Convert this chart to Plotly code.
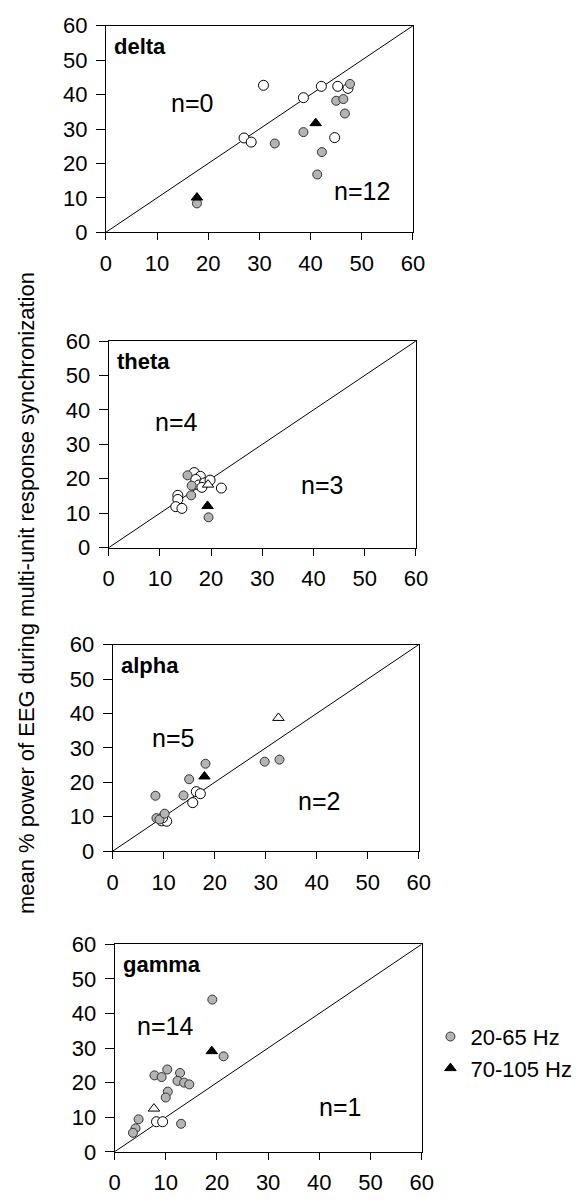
import plotly.graph_objects as go

# --- data: (x, y) pairs per band and marker class ---------------------------
bands = ["delta", "theta", "alpha", "gamma"]

# open circles (non-significant units)
delta_open_x = [30.8, 27.0, 28.4, 38.6, 42.1, 45.3, 44.7, 47.3]
delta_open_y = [42.7, 27.4, 26.2, 39.1, 42.4, 42.4, 27.5, 41.8]
# shaded circles: 20-65 Hz
delta_low_x = [47.7, 45.0, 46.4, 46.7, 38.6, 33.0, 42.2, 41.3, 17.8]
delta_low_y = [43.1, 38.2, 38.7, 34.5, 29.1, 25.8, 23.3, 16.8, 8.4]
# filled triangles: 70-105 Hz
delta_high_x = [17.8, 41.0]
delta_high_y = [10.1, 31.7]
delta_hopen_x = []
delta_hopen_y = []

theta_open_x = [13.5, 13.5, 13.1, 14.3, 16.7, 17.9, 17.0, 17.6, 18.7, 19.8, 22.0, 18.2]
theta_open_y = [15.2, 14.0, 11.9, 11.4, 21.8, 20.7, 19.8, 18.2, 18.8, 19.6, 17.3, 17.5]
theta_low_x = [15.4, 16.2, 16.1, 19.5]
theta_low_y = [21.0, 18.0, 15.2, 8.8]
theta_high_x = [19.3]
theta_high_y = [12.1]
theta_hopen_x = [19.4]
theta_hopen_y = [18.3]

alpha_open_x = [9.6, 10.6, 16.4, 17.2, 15.7, 9.8]
alpha_open_y = [8.8, 8.7, 17.3, 16.7, 14.1, 9.7]
alpha_low_x = [8.4, 8.6, 9.2, 10.2, 13.9, 15.0, 18.2, 29.8, 32.7]
alpha_low_y = [16.1, 9.6, 9.2, 10.9, 16.2, 20.9, 25.4, 26.0, 26.6]
alpha_high_x = [18.0]
alpha_high_y = [21.7]
alpha_hopen_x = [32.5]
alpha_hopen_y = [38.7]

gamma_open_x = [8.2, 9.4]
gamma_open_y = [8.7, 8.7]
gamma_low_x = [19.1, 21.3, 10.3, 7.8, 9.2, 12.8, 12.3, 13.6, 14.6, 10.4, 10.0, 4.7, 4.1, 3.6, 13.0]
gamma_low_y = [44.0, 27.6, 23.8, 22.1, 21.6, 22.8, 20.5, 20.0, 19.5, 17.4, 15.7, 9.4, 6.8, 5.5, 8.1]
gamma_high_x = [19.0]
gamma_high_y = [29.1]
gamma_hopen_x = [7.7]
gamma_hopen_y = [12.5]

counts_above = ["n=0", "n=4", "n=5", "n=14"]
counts_below = ["n=12", "n=3", "n=2", "n=1"]
tick_vals = [0, 10, 20, 30, 40, 50, 60]
legend_names = ["20-65 Hz", "70-105 Hz"]
y_title = "mean % power of EEG during multi-unit response synchronization"

panels = {
    "delta": (delta_open_x, delta_open_y, delta_low_x, delta_low_y,
              delta_high_x, delta_high_y, delta_hopen_x, delta_hopen_y),
    "theta": (theta_open_x, theta_open_y, theta_low_x, theta_low_y,
              theta_high_x, theta_high_y, theta_hopen_x, theta_hopen_y),
    "alpha": (alpha_open_x, alpha_open_y, alpha_low_x, alpha_low_y,
              alpha_high_x, alpha_high_y, alpha_hopen_x, alpha_hopen_y),
    "gamma": (gamma_open_x, gamma_open_y, gamma_low_x, gamma_low_y,
              gamma_high_x, gamma_high_y, gamma_hopen_x, gamma_hopen_y),
}

# --- layout geometry (pixels in a 581 x 1204 page) ---------------------------
W, H = 581, 1204
# left, right, top, bottom of each plotting box
boxes = [
    (103, 420, 14, 225),
    (106, 423, 336, 547),
    (110, 426, 646, 857),
    (112, 429, 952, 1164),
]
# where the count labels sit (data coordinates, left edge of the text)
above_pos = [(12.3, 37.6), (8.7, 36.5), (7.4, 32.8), (4.0, 36.3)]
below_pos = [(44.1, 12.0), (37.1, 18.2), (35.9, 14.5), (39.5, 13.0)]

FONT = "Liberation Sans, Arial, Helvetica, sans-serif"
fig = go.Figure()

for i, band in enumerate(bands):
    ox, oy, lx, ly, hx, hy, tx, ty = panels[band]
    xa = "x" if i == 0 else f"x{i+1}"
    ya = "y" if i == 0 else f"y{i+1}"

    # identity line
    fig.add_trace(go.Scatter(x=[0, 60], y=[0, 60], mode="lines",
                             line=dict(color="black", width=1),
                             xaxis=xa, yaxis=ya, showlegend=False,
                             hoverinfo="skip"))
    fig.add_trace(go.Scatter(x=ox, y=oy, mode="markers", xaxis=xa, yaxis=ya,
                             marker=dict(symbol="circle", size=10, color="white",
                                         line=dict(color="black", width=1)),
                             showlegend=False))
    fig.add_trace(go.Scatter(x=lx, y=ly, mode="markers", xaxis=xa, yaxis=ya,
                             name=legend_names[0],
                             marker=dict(symbol="circle", size=9, color="#b4b4b4",
                                         line=dict(color="#333333", width=1)),
                             showlegend=(i == 0), legendrank=1))
    fig.add_trace(go.Scatter(x=tx, y=ty, mode="markers", xaxis=xa, yaxis=ya,
                             marker=dict(symbol="triangle-up", size=10, color="white",
                                         line=dict(color="black", width=1)),
                             showlegend=False))
    fig.add_trace(go.Scatter(x=hx, y=hy, mode="markers", xaxis=xa, yaxis=ya,
                             name=legend_names[1],
                             marker=dict(symbol="triangle-up", size=10, color="black",
                                         line=dict(color="black", width=1)),
                             showlegend=(i == 0), legendrank=2))

    l, r, t, b = boxes[i]
    axis_common = dict(range=[0, 60], tickvals=tick_vals, showgrid=False,
                       zeroline=False, showline=True, linecolor="black",
                       linewidth=1, mirror=True, ticks="outside",
                       tickcolor="black", tickwidth=1,
                       tickfont=dict(family=FONT, size=22, color="black"))
    fig.update_layout({
        ("xaxis" if i == 0 else f"xaxis{i+1}"): dict(
            axis_common, domain=[l / W, r / W], anchor=ya, ticklen=7,
            ticklabelstandoff=4),
        ("yaxis" if i == 0 else f"yaxis{i+1}"): dict(
            axis_common, domain=[1 - b / H, 1 - t / H], anchor=xa, ticklen=9,
            ticklabelstandoff=4),
    })

    # panel name and counts inside each box
    fig.add_annotation(x=0.02, y=0.97, xref=f"{xa} domain", yref=f"{ya} domain",
                       text=f"<b>{band}</b>", showarrow=False,
                       xanchor="left", yanchor="top",
                       font=dict(family=FONT, size=22, color="black"))
    ax_, ay_ = above_pos[i]
    bx_, by_ = below_pos[i]
    fig.add_annotation(x=ax_, y=ay_, xref=xa, yref=ya, text=counts_above[i],
                       showarrow=False, xanchor="left", yanchor="middle",
                       font=dict(family=FONT, size=25, color="black"))
    fig.add_annotation(x=bx_, y=by_, xref=xa, yref=ya, text=counts_below[i],
                       showarrow=False, xanchor="left", yanchor="middle",
                       font=dict(family=FONT, size=25, color="black"))

fig.add_annotation(x=21 / W, y=1 - 593 / H, xref="paper", yref="paper",
                   text=y_title, textangle=-90, showarrow=False,
                   xanchor="center", yanchor="middle",
                   font=dict(family=FONT, size=22, color="black"))

fig.update_layout(
    width=W, height=H,
    margin=dict(l=0, r=0, t=0, b=0),
    paper_bgcolor="white", plot_bgcolor="white",
    showlegend=True,
    legend=dict(x=438 / W, y=1 - 1025 / H, xanchor="left", yanchor="top",
                bgcolor="rgba(0,0,0,0)", borderwidth=0,
                font=dict(family=FONT, size=22, color="black"),
                itemsizing="trace", tracegroupgap=0),
)

fig.write_html("out.html")
